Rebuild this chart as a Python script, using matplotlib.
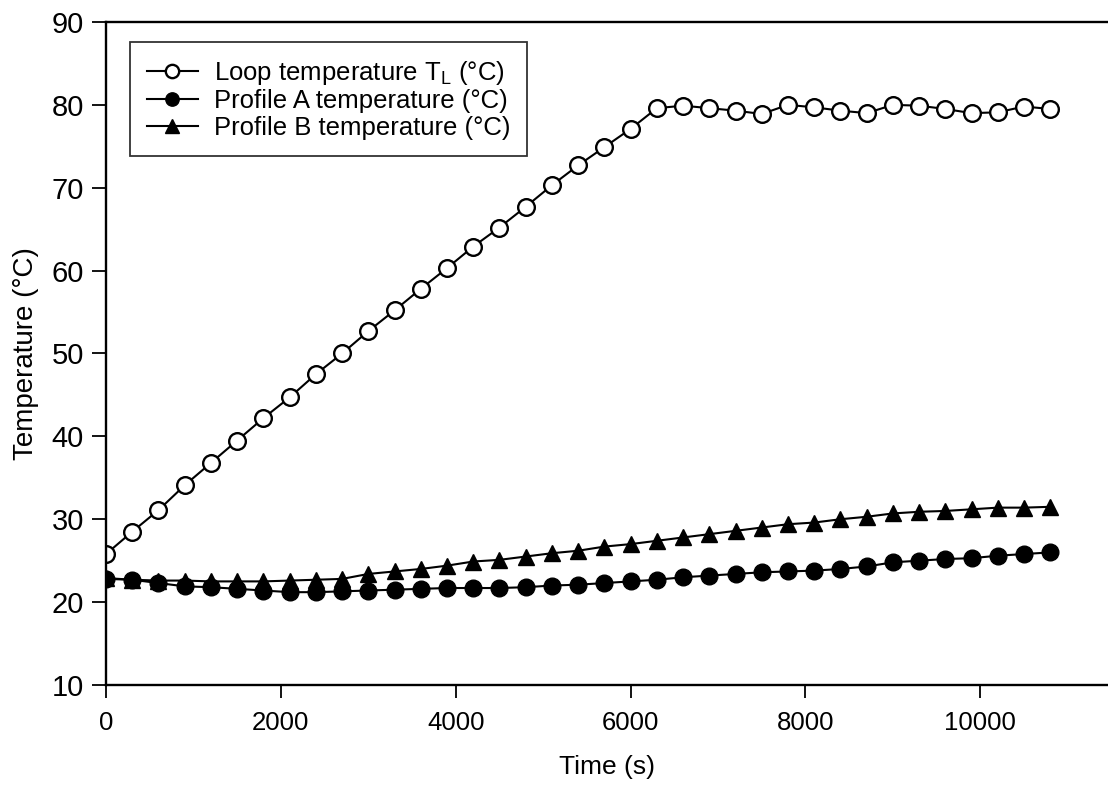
import numpy as np
import matplotlib.pyplot as plt

plt.rcParams['font.family'] = ['Liberation Sans', 'DejaVu Sans']
plt.rcParams['mathtext.fontset'] = 'custom'
plt.rcParams['mathtext.rm'] = 'Liberation Sans'

# time in seconds, one reading every 300 s
time_s = np.arange(0, 10801, 300)

loop_temp = [25.8, 28.5, 31.1, 34.1, 36.8, 39.5, 42.2, 44.7, 47.5, 50.0,
             52.7, 55.2, 57.8, 60.3, 62.9, 65.2, 67.7, 70.3, 72.7, 74.9,
             77.1, 79.6, 79.9, 79.6, 79.3, 78.9, 80.0, 79.7, 79.3, 79.0,
             80.0, 79.9, 79.5, 79.0, 79.1, 79.8, 79.5]

profile_a = [22.8, 22.7, 22.3, 21.9, 21.8, 21.6, 21.4, 21.2, 21.2, 21.3,
             21.4, 21.5, 21.6, 21.7, 21.7, 21.7, 21.8, 22.0, 22.1, 22.3,
             22.5, 22.7, 23.0, 23.2, 23.4, 23.6, 23.7, 23.8, 24.0, 24.3,
             24.8, 25.0, 25.2, 25.3, 25.6, 25.8, 26.0]

profile_b = [22.9, 22.7, 22.6, 22.6, 22.5, 22.5, 22.5, 22.6, 22.7, 22.8,
             23.4, 23.7, 24.0, 24.4, 24.9, 25.1, 25.5, 25.9, 26.2, 26.7,
             27.0, 27.4, 27.8, 28.2, 28.6, 29.0, 29.4, 29.6, 30.0, 30.3,
             30.7, 30.9, 31.0, 31.2, 31.4, 31.4, 31.5]

fig = plt.figure(figsize=(11.08, 7.85), dpi=100)
ax = fig.add_axes([0.0957, 0.1274, 0.9043, 0.8446])

ax.plot(time_s, loop_temp, color="black", lw=1.5, marker="o", ms=12,
        mfc="white", mec="black", mew=1.7, label=r"Loop temperature T$_{\rm L}$ (°C)")
ax.plot(time_s, profile_a, color="black", lw=1.5, marker="o", ms=12,
        mfc="black", mec="black", label="Profile A temperature (°C)")
ax.plot(time_s, profile_b, color="black", lw=1.5, marker="^", ms=12,
        mfc="black", mec="black", label="Profile B temperature (°C)")

ax.set_xlim(0, 11460)
ax.set_ylim(10, 90)
ax.set_xticks(np.arange(0, 10001, 2000))
ax.set_yticks(np.arange(10, 91, 10))
ax.tick_params(axis="x", direction="out", length=9, width=1.3, labelsize=18.5, pad=10)
ax.tick_params(axis="y", direction="out", length=10, width=1.3, labelsize=21, pad=6)
ax.spines["right"].set_visible(False)
for s in ["left", "bottom", "top"]:
    ax.spines[s].set_linewidth(1.7)

ax.set_xlabel("Time (s)", fontsize=19, labelpad=14)
ax.set_ylabel("Temperature (°C)", fontsize=20, labelpad=9)

leg = ax.legend(loc="upper left", bbox_to_anchor=(0.024, 0.97), borderaxespad=0,
                fontsize=18.5, frameon=True, fancybox=False, handlelength=2.0,
                handletextpad=0.6, labelspacing=0.1, borderpad=0.65, markerscale=0.8)
leg.get_frame().set_edgecolor("black")
leg.get_frame().set_linewidth(1.3)

fig.savefig("out.png", dpi=100)
